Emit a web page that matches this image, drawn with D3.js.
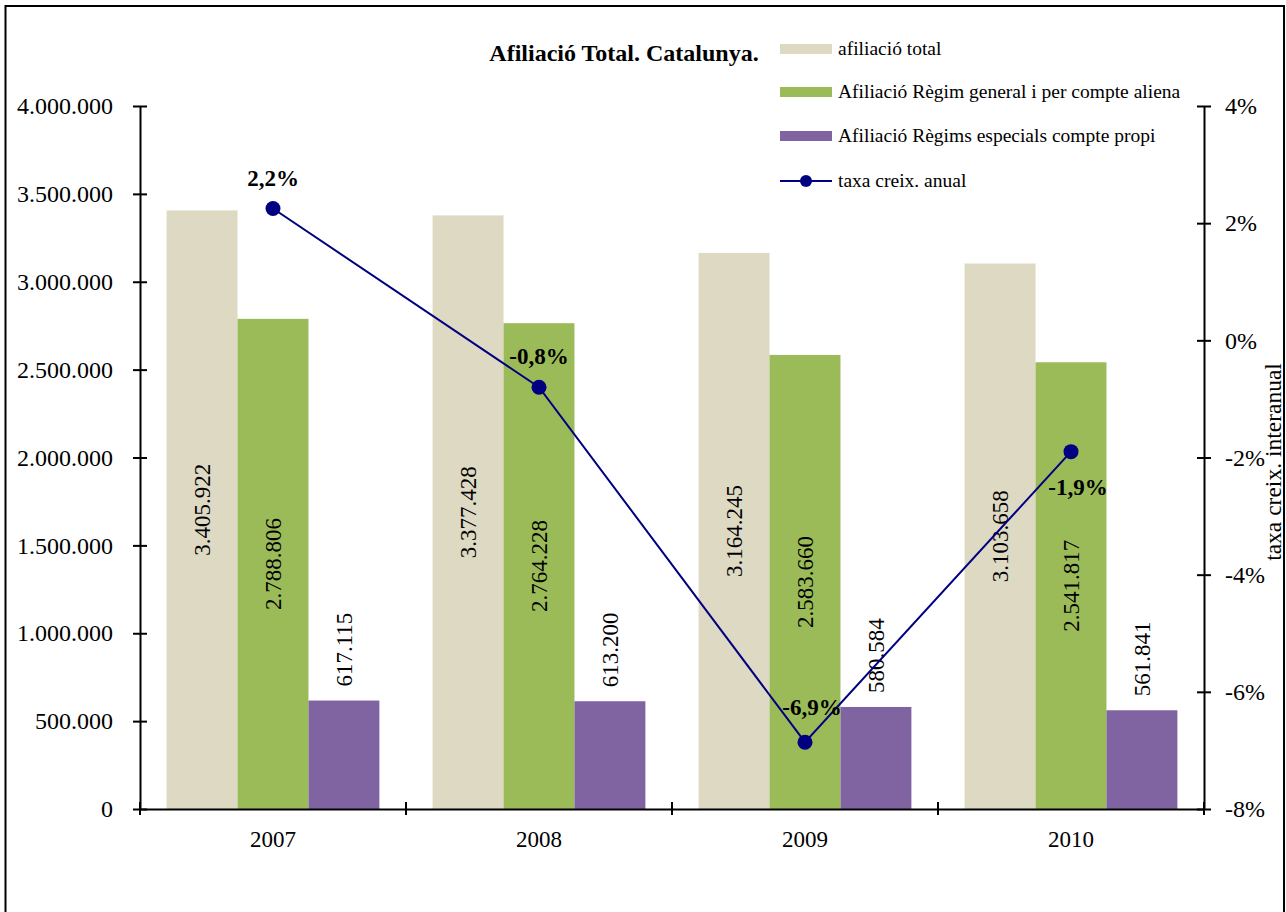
<!DOCTYPE html>
<html><head><meta charset="utf-8">
<script src="https://cdn.jsdelivr.net/npm/d3@7"></script>
<style>body{margin:0;background:#fff}svg{display:block}text{font-family:"Liberation Serif","Times New Roman",serif;fill:#000}</style>
</head><body><svg id="c" width="1286" height="912"></svg>
<script>
const years = ["2007","2008","2009","2010"];
const afiliacioTotal = [3405922, 3377428, 3164245, 3103658];
const regimGeneral = [2788806, 2764228, 2583660, 2541817];
const regimsEspecials = [617115, 613200, 580584, 561841];
const taxaCreix = [2.25, -0.8, -6.86, -1.9];
const taxaLabels = ["2,2%", "-0,8%", "-6,9%", "-1,9%"];
const leftTicks = [0,500000,1000000,1500000,2000000,2500000,3000000,3500000,4000000];
const rightTicks = [-8,-6,-4,-2,0,2,4];
const seriesNames = ["afiliació total","Afiliació Règim general i per compte aliena","Afiliació Règims especials compte propi","taxa creix. anual"];
const colors = ["#DDD9C3","#9BBB59","#8064A2","#000080"];

const svg = d3.select("#c");
svg.append("rect").attr("x",5.5).attr("y",6).attr("width",1278.5).attr("height",920)
  .attr("fill","none").attr("stroke","#000").attr("stroke-width",2);

const L=140, R=1204, T=106, B=809;
const x = d3.scaleBand().domain(years).range([L,R]);
const inner = d3.scaleBand().domain([0,1,2]).range([0,x.bandwidth()]).paddingOuter(0.375).paddingInner(0);
const y = d3.scaleLinear().domain([0,4000000]).range([B,T]);
const y2 = d3.scaleLinear().domain([-8,4]).range([B,T]);
const fmt = d3.formatLocale({decimal:",",thousands:".",grouping:[3],currency:["",""]}).format(",d");

const series = [afiliacioTotal, regimGeneral, regimsEspecials];
series.forEach((vals,si)=>{
  const g = svg.append("g");
  g.selectAll("rect").data(vals).join("rect")
    .attr("x",(d,i)=>x(years[i])+inner(si))
    .attr("width",inner.bandwidth())
    .attr("y",d=>y(d)).attr("height",d=>B-y(d))
    .attr("fill",colors[si]);
  g.selectAll("text").data(vals).join("text")
    .attr("transform",(d,i)=>{
      const cx = x(years[i])+inner(si)+inner.bandwidth()/2;
      const cy = si<2 ? (y(d)+B)/2 : y(d)-14;
      return `translate(${cx},${cy}) rotate(-90)`;
    })
    .attr("text-anchor", si<2 ? "middle" : "start")
    .attr("dy","0.35em")
    .style("font-size","23px")
    .text(d=>fmt(d));
});

// axes
const axL = d3.axisLeft(y).tickValues(leftTicks).tickFormat(d=>fmt(d)).tickSizeInner(7).tickSizeOuter(0).tickPadding(20);
const gL = svg.append("g").attr("transform",`translate(${L},0)`).call(axL);
const axR = d3.axisRight(y2).tickValues(rightTicks).tickFormat(d=>d+"%").tickSizeInner(7).tickSizeOuter(0).tickPadding(14);
const gR = svg.append("g").attr("transform",`translate(${R},0)`).call(axR);
const axB = d3.axisBottom(x).tickSize(0).tickPadding(30);
const gB = svg.append("g").attr("transform",`translate(0,${B})`).call(axB);
[gL,gR,gB].forEach(g=>{
  g.attr("font-family",null).attr("font-size",null);
  g.select(".domain").attr("stroke","#000").attr("stroke-width",2);
  g.selectAll("text").style("font-size","24px");
  g.selectAll(".tick line").attr("stroke","#000").attr("stroke-width",2);
});
gB.selectAll("text").style("font-size","23px");
gL.selectAll(".tick line").attr("x2",7).attr("x1",-7);
gR.selectAll(".tick line").attr("x1",-7).attr("x2",7);
gB.selectAll(".tick text").attr("dy","0.35em");
// category boundary ticks
const bounds = years.map(d=>x(d)).concat([R]);
svg.append("g").selectAll("line").data(bounds).join("line")
  .attr("x1",d=>d).attr("x2",d=>d).attr("y1",B-7).attr("y2",B+6)
  .attr("stroke","#000").attr("stroke-width",2);

// line
const cxp = (d,i)=>x(years[i])+x.bandwidth()/2;
svg.append("path").datum(taxaCreix)
  .attr("d",d3.line().x(cxp).y(d=>y2(d)))
  .attr("fill","none").attr("stroke",colors[3]).attr("stroke-width",2);
svg.append("g").selectAll("circle").data(taxaCreix).join("circle")
  .attr("cx",cxp).attr("cy",d=>y2(d)).attr("r",7.5).attr("fill",colors[3]);
const lblOff = [[0,-31],[0,-31],[7,-35],[7,35]];
svg.append("g").selectAll("text").data(taxaCreix).join("text")
  .attr("x",(d,i)=>cxp(d,i)+lblOff[i][0]).attr("y",(d,i)=>y2(d)+lblOff[i][1])
  .attr("dy","0.35em").attr("text-anchor","middle")
  .style("font-size","23px").style("font-weight","bold")
  .text((d,i)=>taxaLabels[i]);

// title
svg.append("text").attr("x",624).attr("y",53).attr("dy","0.35em").attr("text-anchor","middle")
  .style("font-size","24px").style("font-weight","bold").text("Afiliació Total. Catalunya.");
// right axis title
svg.append("text").attr("transform","translate(1273,462) rotate(-90)").attr("dy","0.35em")
  .attr("text-anchor","middle").style("font-size","23.5px").text("taxa creix. interanual");

// legend
const lg = svg.append("g");
const rows = [49,92,136,181];
seriesNames.forEach((n,i)=>{
  if(i<3){
    lg.append("rect").attr("x",780).attr("y",rows[i]-5).attr("width",52).attr("height",10).attr("fill",colors[i]);
  } else {
    lg.append("line").attr("x1",780).attr("x2",832).attr("y1",rows[i]).attr("y2",rows[i]).attr("stroke",colors[3]).attr("stroke-width",2);
    lg.append("circle").attr("cx",806).attr("cy",rows[i]).attr("r",6).attr("fill",colors[3]);
  }
  lg.append("text").attr("x",838).attr("y",rows[i]).attr("dy","0.3em").style("font-size","19.5px").text(n);
});
</script></body></html>
